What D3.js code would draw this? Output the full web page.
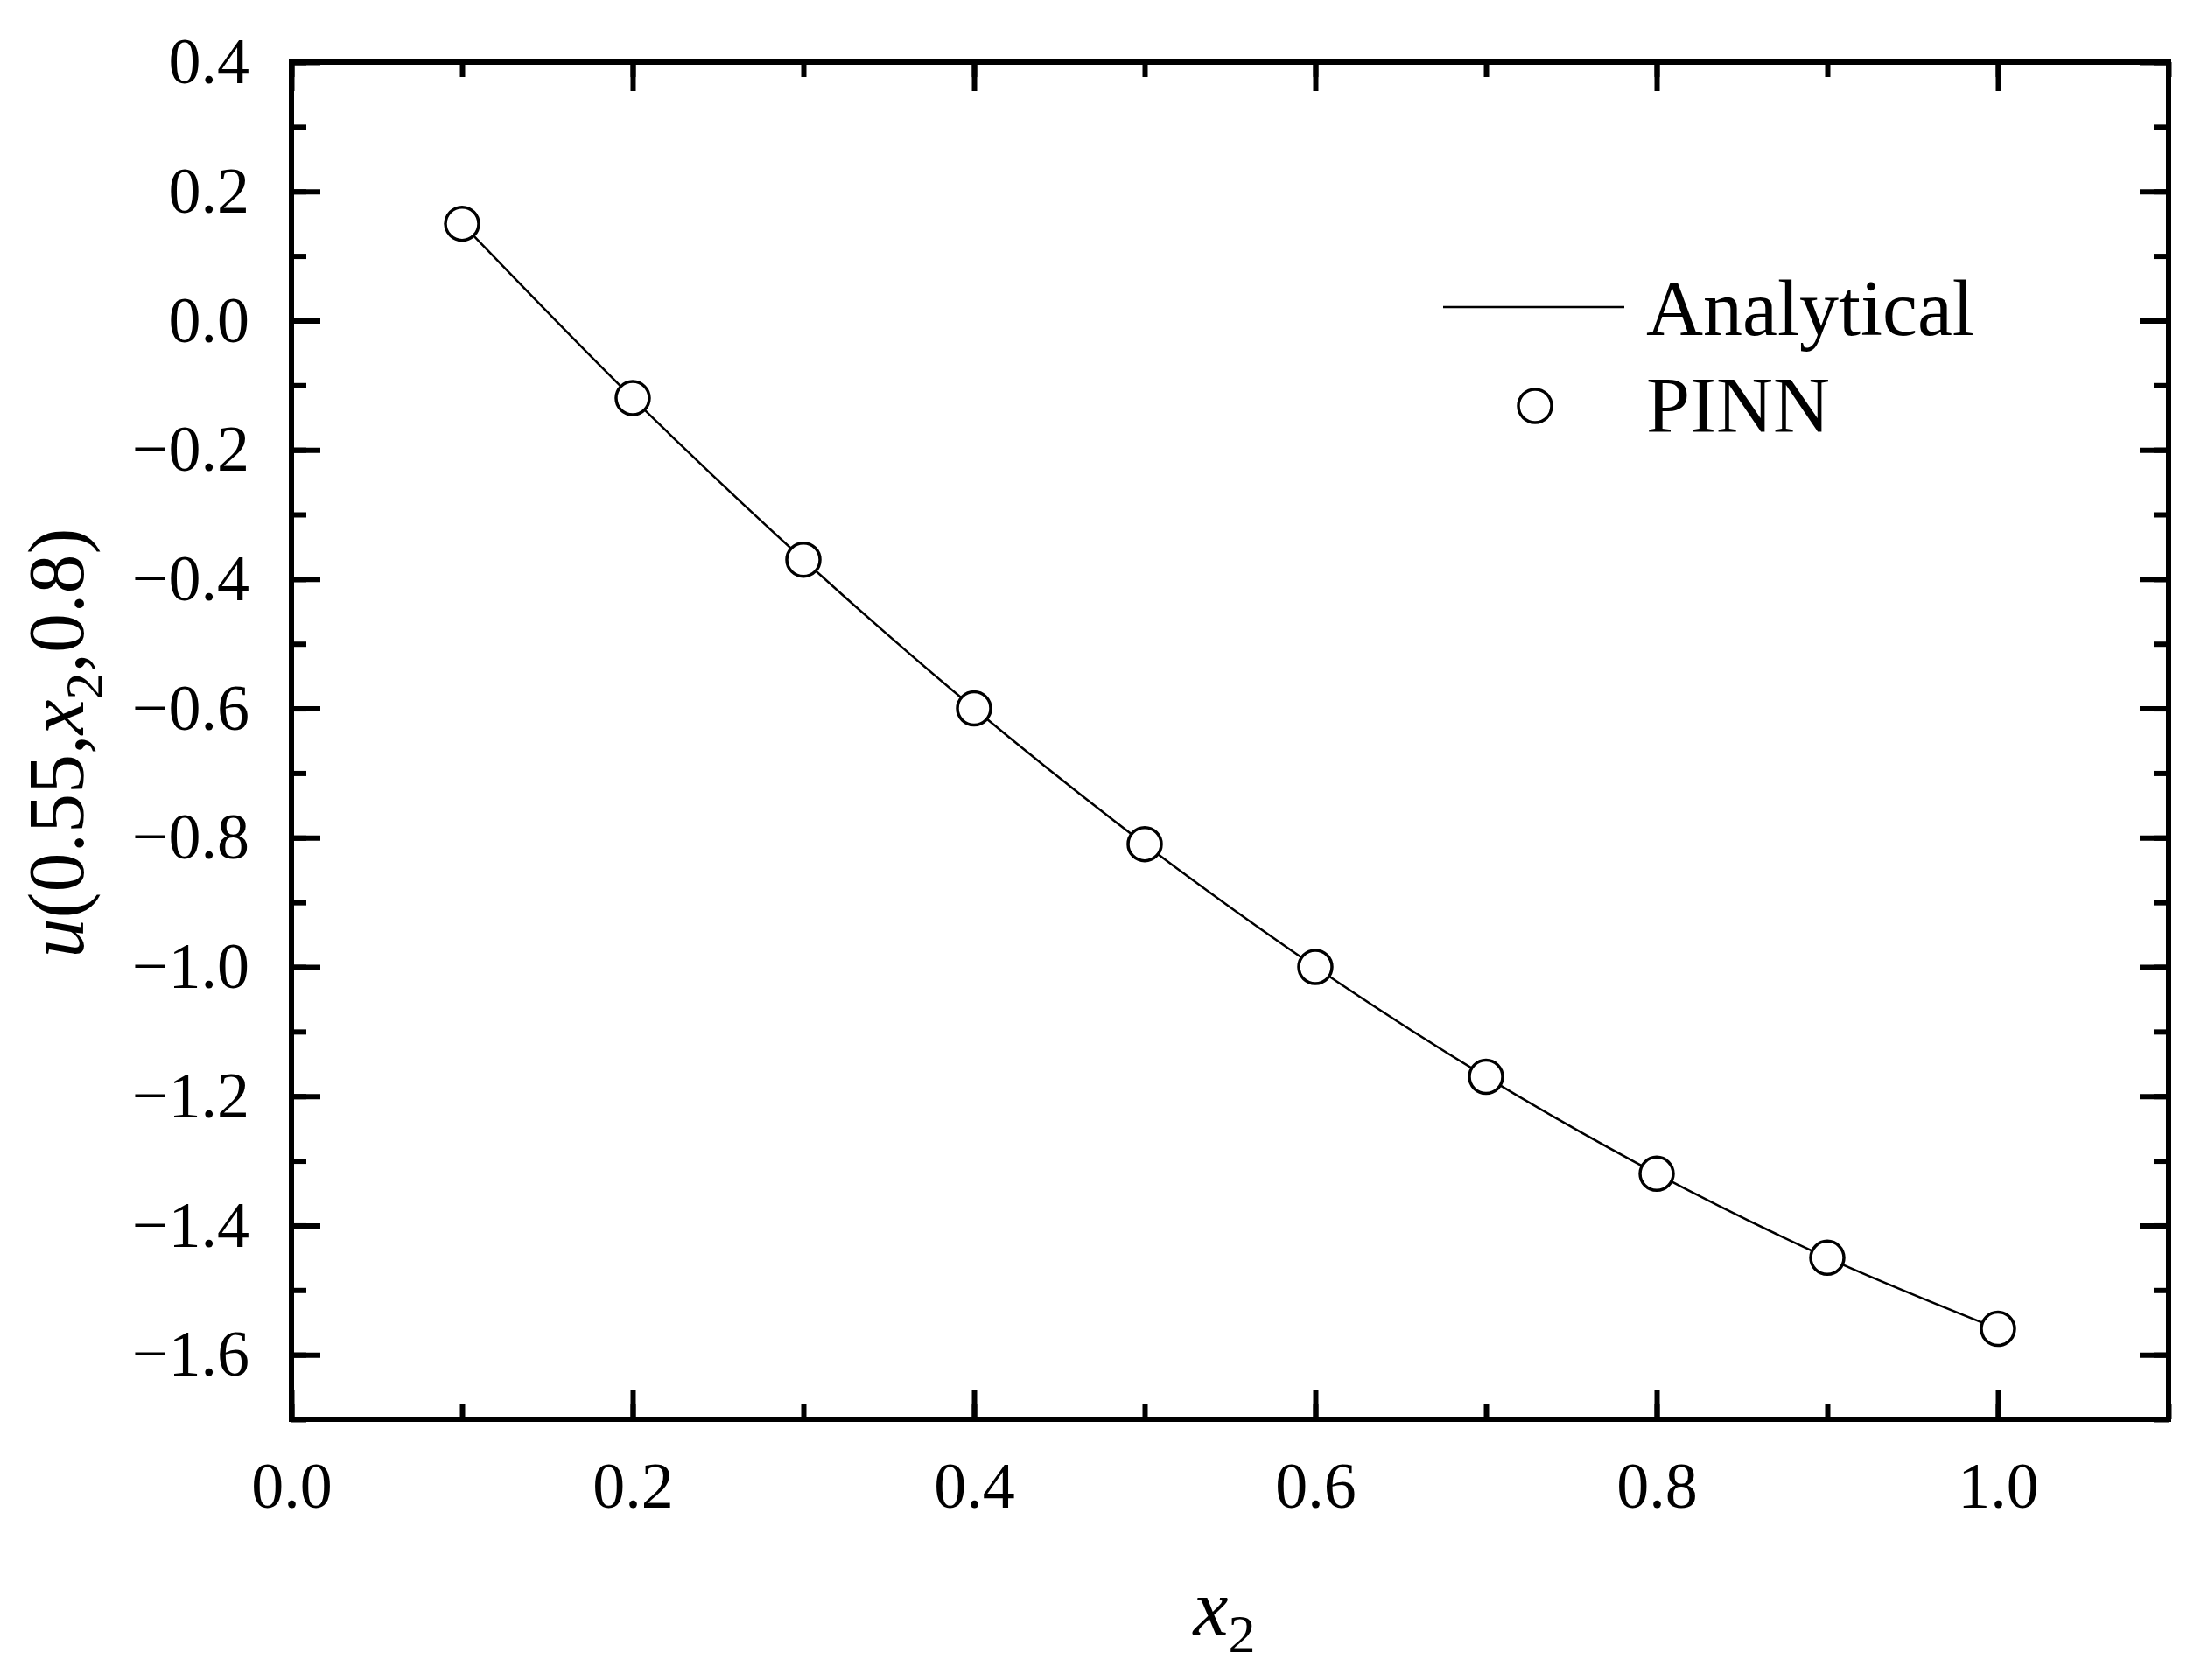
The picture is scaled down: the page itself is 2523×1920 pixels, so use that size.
<!DOCTYPE html>
<html><head><meta charset="utf-8">
<script src="https://cdn.jsdelivr.net/npm/d3@7"></script>
<style>body{margin:0;background:#fff}</style></head>
<body><svg id="c" width="2523" height="1920"></svg>
<script>
const xVals = [0.1,0.2,0.3,0.4,0.5,0.6,0.7,0.8,0.9,1.0];
const pinn = [0.15,-0.12,-0.37,-0.60,-0.81,-1.00,-1.17,-1.32,-1.45,-1.56];
const analytical = [0.15,-0.12,-0.37,-0.60,-0.81,-1.00,-1.17,-1.32,-1.45,-1.56];
const xTicks = [0,0.2,0.4,0.6,0.8,1.0];
const yTicks = [0.4,0.2,0,-0.2,-0.4,-0.6,-0.8,-1.0,-1.2,-1.4,-1.6];
const legendLabels = ["Analytical","PINN"];

const svg = d3.select("#c");
const F = "'Liberation Serif','Times New Roman',serif";
const L=333,R=2478,T=71,B=1622;
const x = d3.scaleLinear().domain([0,1.1]).range([L,R]);
const y = d3.scaleLinear().domain([-1.7,0.4]).range([B,T]);
const fmt = v => d3.format(".1f")(v).replace("-", "\u2212");

const minorX = d3.range(0,1.1001,0.1), minorY = d3.range(-1.7,0.4001,0.1);
function axes(){
  svg.append("g").attr("transform",`translate(0,${B})`).call(d3.axisBottom(x).tickValues(xTicks).tickSize(-33).tickFormat(fmt).tickPadding(48));
  svg.append("g").attr("transform",`translate(0,${T})`).call(d3.axisTop(x).tickValues(xTicks).tickSize(-33).tickFormat(""));
  svg.append("g").attr("transform",`translate(${L},0)`).call(d3.axisLeft(y).tickValues(yTicks).tickSize(-33).tickFormat(fmt).tickPadding(48));
  svg.append("g").attr("transform",`translate(${R},0)`).call(d3.axisRight(y).tickValues(yTicks).tickSize(-33).tickFormat(""));
  svg.append("g").attr("transform",`translate(0,${B})`).call(d3.axisBottom(x).tickValues(minorX).tickSize(-17).tickFormat(""));
  svg.append("g").attr("transform",`translate(0,${T})`).call(d3.axisTop(x).tickValues(minorX).tickSize(-17).tickFormat(""));
  svg.append("g").attr("transform",`translate(${L},0)`).call(d3.axisLeft(y).tickValues(minorY).tickSize(-17).tickFormat(""));
  svg.append("g").attr("transform",`translate(${R},0)`).call(d3.axisRight(y).tickValues(minorY).tickSize(-17).tickFormat(""));
  svg.selectAll(".domain").remove();
  svg.selectAll(".tick line").attr("stroke","#000").attr("stroke-width",6);
  svg.selectAll(".tick text").attr("font-family",F).attr("font-size",74).attr("fill","#000");
  svg.append("rect").attr("x",L).attr("y",T).attr("width",R-L).attr("height",B-T).attr("fill","none").attr("stroke","#000").attr("stroke-width",6);
}
axes();

const pts = xVals.map((v,i)=>[x(v),y(analytical[i])]);
svg.append("path").attr("d",d3.line().curve(d3.curveCatmullRom)(pts)).attr("fill","none").attr("stroke","#000").attr("stroke-width",2.5);
svg.selectAll("circle.p").data(xVals).join("circle").attr("class","p")
  .attr("cx",d=>x(d)).attr("cy",(d,i)=>y(pinn[i])).attr("r",19).attr("fill","#fff").attr("stroke","#000").attr("stroke-width",3.5);

// legend
svg.append("line").attr("x1",1649).attr("x2",1856).attr("y1",351).attr("y2",351).attr("stroke","#000").attr("stroke-width",2.5);
svg.append("text").attr("x",1881).attr("y",383).attr("font-family",F).attr("font-size",90).text(legendLabels[0]);
svg.append("circle").attr("cx",1754).attr("cy",464).attr("r",19).attr("fill","#fff").attr("stroke","#000").attr("stroke-width",3.5);
svg.append("text").attr("x",1881).attr("y",494).attr("font-family",F).attr("font-size",90).text(legendLabels[1]);

// axis titles
const xt = svg.append("text").attr("x",1399).attr("y",1868).attr("text-anchor","middle").attr("font-family",F).attr("font-size",90);
xt.append("tspan").attr("font-style","italic").text("x");
xt.append("tspan").attr("font-size",62).attr("dy",20).text("2");
const yt = svg.append("text").attr("transform","translate(95,849) rotate(-90)").attr("text-anchor","middle").attr("font-family",F).attr("font-size",90);
yt.append("tspan").attr("font-style","italic").text("u");
yt.append("tspan").text("(0.55,");
yt.append("tspan").attr("font-style","italic").text("x");
yt.append("tspan").attr("font-size",62).attr("dy",22).text("2");
yt.append("tspan").attr("dy",-22).text(",0.8)");
</script></body></html>
